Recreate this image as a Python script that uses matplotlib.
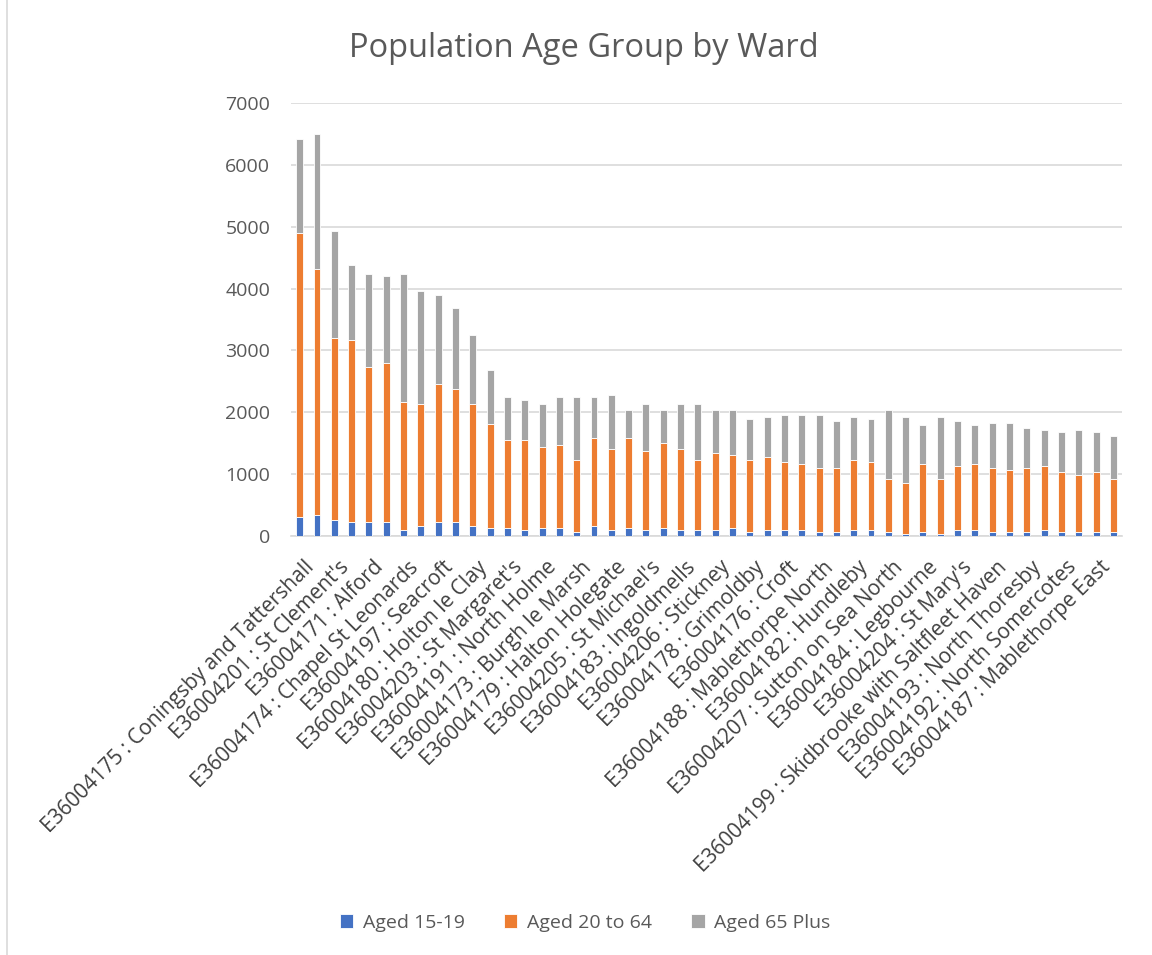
import matplotlib
matplotlib.use('Agg')
import matplotlib.pyplot as plt
from matplotlib.lines import Line2D
from matplotlib.transforms import ScaledTranslation
import numpy as np

# Ward labels (only every other ward is labelled on the axis)
ward_labels = [
    "E36004175 : Coningsby and Tattershall",
    "E36004201 : St Clement's",
    "E36004171 : Alford",
    "E36004174 : Chapel St Leonards",
    "E36004197 : Seacroft",
    "E36004180 : Holton le Clay",
    "E36004203 : St Margaret's",
    "E36004191 : North Holme",
    "E36004173 : Burgh le Marsh",
    "E36004179 : Halton Holegate",
    "E36004205 : St Michael's",
    "E36004183 : Ingoldmells",
    "E36004206 : Stickney",
    "E36004178 : Grimoldby",
    "E36004176 : Croft",
    "E36004188 : Mablethorpe North",
    "E36004182 : Hundleby",
    "E36004207 : Sutton on Sea North",
    "E36004184 : Legbourne",
    "E36004204 : St Mary's",
    "E36004199 : Skidbrooke with Saltfleet Haven",
    "E36004193 : North Thoresby",
    "E36004192 : North Somercotes",
    "E36004187 : Mablethorpe East",
]

aged_15_19 = [308, 340, 264, 232, 232, 232, 97, 162, 232, 232, 162, 130,
              130, 97, 130, 130, 59, 162, 97, 130, 97, 130, 97, 97,
              97, 130, 59, 97, 97, 97, 59, 59, 97, 97, 59, 27,
              59, 27, 97, 97, 59, 59, 59, 97, 59, 59, 59, 59]

aged_20_64 = [4587, 3972, 2942, 2941, 2493, 2558, 2072, 1970, 2218, 2143, 1970, 1689,
              1419, 1452, 1316, 1349, 1177, 1419, 1311, 1451, 1279, 1381, 1311, 1139,
              1241, 1176, 1177, 1177, 1106, 1069, 1037, 1037, 1139, 1106, 869, 831,
              1107, 901, 1036, 1069, 1037, 1004, 1037, 1036, 972, 934, 972, 869]

aged_65_plus = [1527, 2180, 1727, 1209, 1517, 1419, 2073, 1835, 1452, 1316, 1111, 869,
                696, 653, 686, 766, 1009, 664, 869, 454, 761, 524, 729, 901,
                697, 729, 658, 658, 761, 798, 868, 766, 696, 691, 1107, 1074,
                626, 1004, 729, 626, 728, 761, 658, 589, 653, 729, 653, 691]

series_names = ["Aged 15-19", "Aged 20 to 64", "Aged 65 Plus"]
colors = ["#4472C4", "#ED7D31", "#A5A5A5"]

plt.rcParams['font.family'] = ['Open Sans', 'DejaVu Sans']
text_grey = '#595959'

fig = plt.figure(figsize=(11.52, 9.55), dpi=100)
ax = fig.add_axes([0.2526, 0.4387, 0.7214, 0.4534])

x = np.arange(len(aged_15_19))
bottom = np.zeros(len(x))
for vals, name, c in zip([aged_15_19, aged_20_64, aged_65_plus], series_names, colors):
    ax.bar(x, vals, bottom=bottom, width=0.4, color=c, edgecolor='white',
           linewidth=0.6, label=name, zorder=3)
    bottom += np.array(vals)

ax.set_xlim(-0.5, len(x) - 0.5)
ax.set_ylim(0, 7000)
ax.set_yticks(range(0, 7001, 1000))
ax.yaxis.grid(True, color='#D9D9D9', linewidth=1.2, zorder=0)
for side in ['top', 'right', 'left']:
    ax.spines[side].set_visible(False)
ax.spines['bottom'].set_color('#D9D9D9')
ax.spines['bottom'].set_linewidth(1.2)
ax.tick_params(axis='y', length=0, pad=15, labelsize=14, labelcolor=text_grey)
ax.tick_params(axis='x', length=0, pad=15)

ax.set_xticks(x[::2])
ax.set_xticklabels(ward_labels, rotation=45, ha='right', va='top',
                   rotation_mode='anchor', fontsize=15, color='#404040')
# nudge the slanted labels a little to the right of their bars
nudge = ScaledTranslation(3 / 72, 0, fig.dpi_scale_trans)
for lbl in ax.get_xticklabels():
    lbl.set_transform(lbl.get_transform() + nudge)

fig.text(0.507, 0.949, "Population Age Group by Ward", ha='center', va='center',
         fontsize=23.5, color=text_grey)

fig.legend(loc='center', bbox_to_anchor=(0.508, 0.034), ncol=3, frameon=False,
           fontsize=14, handlelength=0.7, handleheight=0.7, columnspacing=2.0,
           handletextpad=0.5, labelcolor=text_grey)

# chart area border on the left edge
fig.add_artist(Line2D([0.006, 0.006], [0.0, 1.0], color='#D9D9D9', linewidth=1.2))

fig.savefig('out.png', dpi=100)
